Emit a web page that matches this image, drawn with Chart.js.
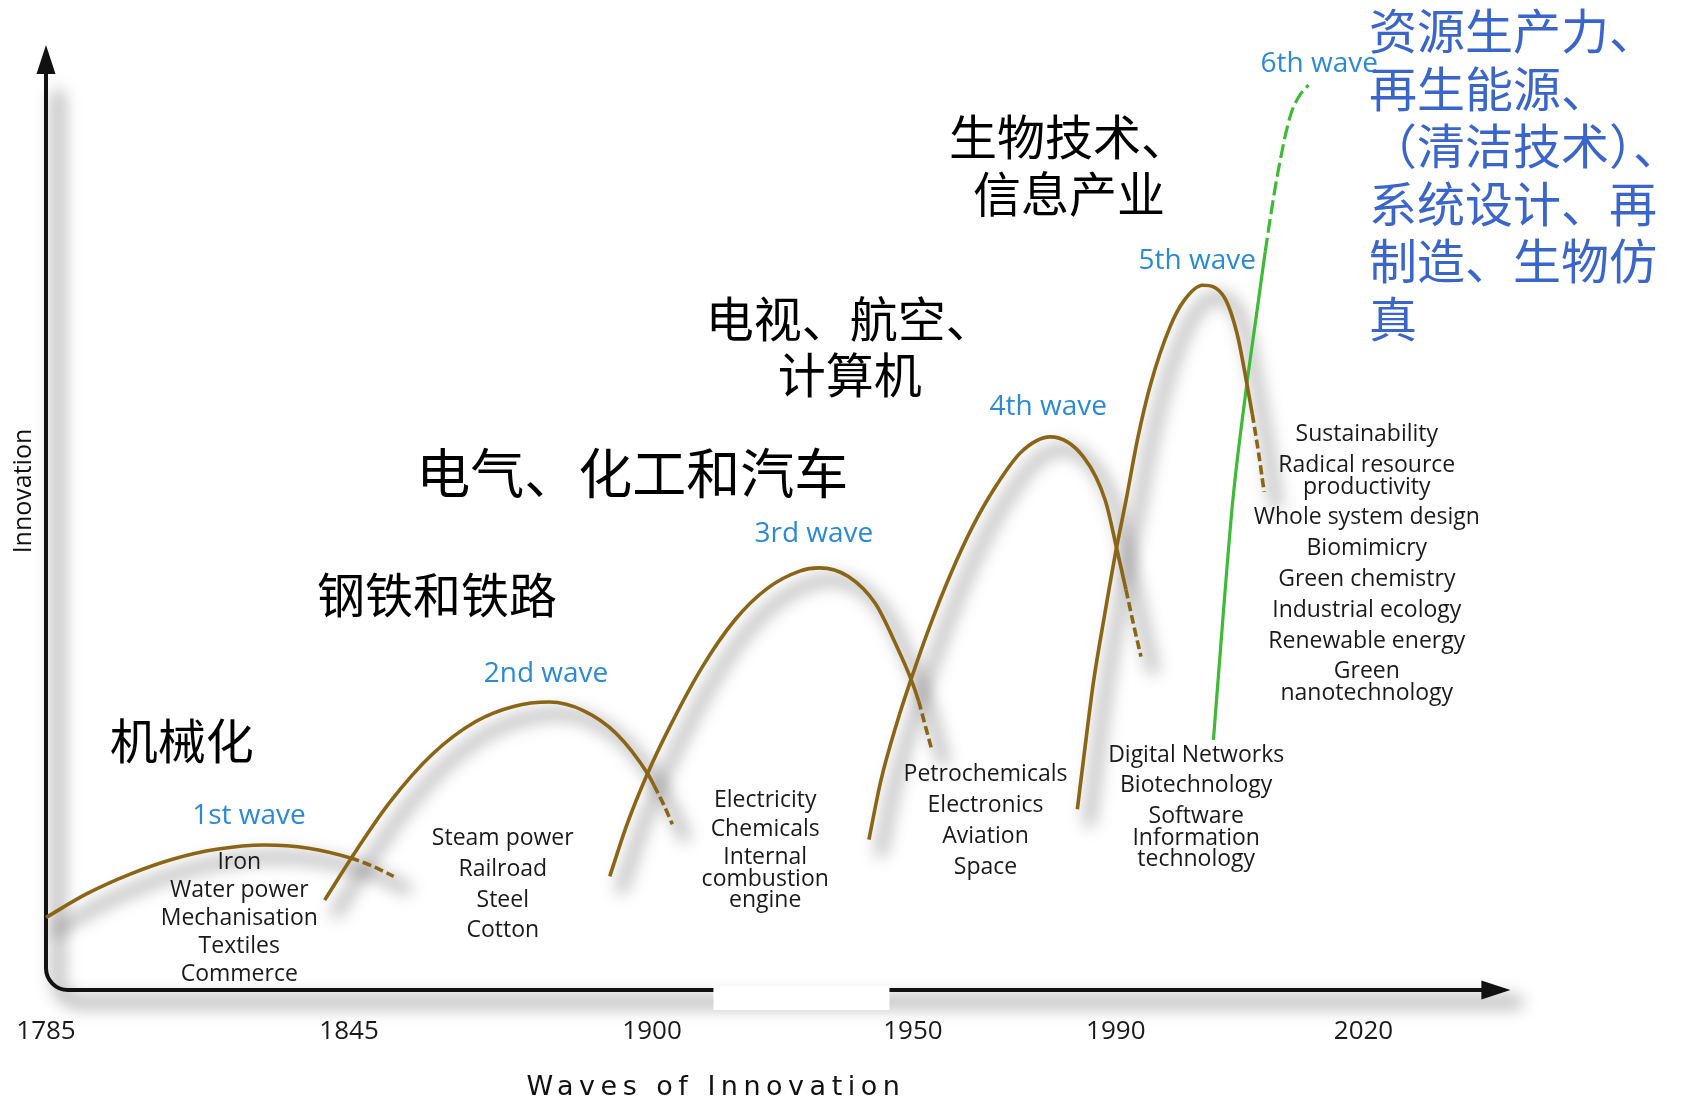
<!DOCTYPE html>
<html><head><meta charset="utf-8">
<script src="https://cdn.jsdelivr.net/npm/chart.js@4"></script>
<style>html,body{margin:0;padding:0;background:#fff;overflow:hidden}#c{display:block}</style>
</head><body>
<canvas id="c" width="1694" height="1106"></canvas>
<script>
// ---------- data ----------
const tickYears = ['1785', '1845', '1900', '1950', '1990', '2020'];
const tickPositions = [0, 23.0, 46.0, 65.8, 81.2, 100];

const wave1 = [[0,7.67],[3.11,10.19],[6.39,12.26],[9.67,13.86],[12.95,14.89],[16.56,15.35],[19.92,15.01],[23.11,13.97],[24.84,13.06],[26.39,12.03]];
const wave2 = [[21.15,9.51],[23.61,14.89],[26.07,19.82],[29.34,24.97],[32.62,28.41],[35.49,30.01],[38.20,30.47],[40.82,29.55],[43.28,27.15],[45.66,22.91],[46.15,21.65],[46.89,19.59],[47.54,17.53]];
const wave3 = [[42.79,12.03],[44.10,17.53],[45.66,22.91],[47.38,27.95],[49.84,34.25],[52.30,39.18],[54.75,42.50],[57.21,44.33],[58.69,44.67],[60.90,43.76],[62.95,40.89],[64.59,36.31],[65.66,32.88],[66.23,30.58],[66.72,28.06],[67.21,25.54]];
const wave4 = [[62.46,15.92],[63.36,22.11],[64.59,28.29],[65.66,32.88],[67.05,38.37],[68.69,44.10],[70.33,49.03],[71.97,53.04],[74.02,56.93],[76.23,58.53],[78.77,56.36],[80.41,51.78],[81.23,46.96],[81.97,42.38],[82.54,38.72],[83.11,35.28]];
const wave5 = [[78.28,19.13],[78.77,24.63],[79.51,32.65],[80.33,39.52],[81.23,46.62],[81.97,51.78],[82.87,58.42],[83.85,64.15],[85.33,70.22],[86.39,72.97],[87.79,74.57],[89.43,73.31],[90.41,69.42],[91.15,64.15],[91.56,60.94],[92.05,56.70],[92.46,52.69]];
const wave6 = [[88.61,26.46],[89.34,39.52],[90.08,51.78],[91.15,64.15],[91.89,71.59],[92.54,78.12],[93.44,86.03],[94.43,92.44],[95.08,94.50],[95.82,95.76]];

const waveNames = ['1st wave', '2nd wave', '3rd wave', '4th wave', '5th wave', '6th wave'];
const wave1Items = ['Iron', 'Water power', 'Mechanisation', 'Textiles', 'Commerce'];
const wave2Items = ['Steam power', 'Railroad', 'Steel', 'Cotton'];
const wave3Items = ['Electricity', 'Chemicals', 'Internal\ncombustion\nengine'];
const wave4Items = ['Petrochemicals', 'Electronics', 'Aviation', 'Space'];
const wave5Items = ['Digital Networks', 'Biotechnology', 'Software\nInformation\ntechnology'];
const wave6Items = ['Sustainability', 'Radical resource\nproductivity', 'Whole system design', 'Biomimicry', 'Green chemistry', 'Industrial ecology', 'Renewable energy', 'Green\nnanotechnology'];

const cnLabels = [['机械化'], ['钢铁和铁路'], ['电气、化工和汽车'], ['电视、航空、', '计算机'], ['生物技术、', '信息产业']];
const cnBlueLines = ['资源生产力、', '再生能源、', '（清洁技术）、', '系统设计、再', '制造、生物仿', '真'];
const xTitle = 'Waves of Innovation';
const yTitle = 'Innovation';

// ---------- layout & style (positions in axis units) ----------
const waveCurves = [wave1, wave2, wave3, wave4, wave5, wave6];
const itemLists = [wave1Items, wave2Items, wave3Items, wave4Items, wave5Items, wave6Items];
const STYLE = {
  brown: '#8b6516', green: '#3dbb34', blue: '#2b8ad6', cnBlue: '#3a66cc', ink: '#1a1a1a',
  dashFrom: [7, 10, 13, 13, 14, 5],
  curveColor: ['b', 'b', 'b', 'b', 'b', 'g'],
  axisEnd: 111.15,
  gap: [50.66, 64.02],
  shadow: { dx: 12, dy: 12, width: 12, blur: 8, color: 'rgba(0,0,0,0.26)' }
};
const POS = {
  waveLabels: [[15.41,18.44],[37.95,33.45],[58.28,48.22],[76.07,61.74],[87.38,77.09],[96.64,97.94]],
  groups: [
    {x:14.67, y:13.52, step:28},
    {x:34.67, y:16.04, step:30.8},
    {x:54.59, y:20.05, step:28.5},
    {x:71.31, y:22.79, step:31},
    {x:87.30, y:24.86, step:30.8},
    {x:100.25, y:58.76, step:30.8}
  ],
  innerStep: 21.6,
  cn: [
    {x:4.84, y:26.35, align:'left', size:48, step:0},
    {x:20.57, y:41.81, align:'left', size:48, step:0},
    {x:28.11, y:54.64, align:'left', size:54, step:0},
    {x:61.0, y:71.02, align:'center', size:48, step:56},
    {x:77.65, y:90.26, align:'center', size:48, step:57}
  ],
  cnBlue: {x:100.41, y:101.5, step:57.5, size:48},
  xTitle: {x:50.85, y:-10.4},
  yTitle: {x:-1.67, y:52.8}
};

// ---------- plugins ----------
function softShadow(ctx, buildPath, width) {
  const s = STYLE.shadow;
  ctx.save();
  ctx.filter = 'blur(' + s.blur + 'px)';
  ctx.translate(s.dx, s.dy);
  ctx.strokeStyle = s.color;
  ctx.lineWidth = width;
  ctx.lineCap = 'round';
  ctx.beginPath();
  buildPath();
  ctx.stroke();
  ctx.restore();
}

const axesPlugin = {
  id: 'arrowAxes',
  beforeDatasetsDraw(chart) {
    const {ctx, scales: {x, y}} = chart;
    const x0 = x.getPixelForValue(0), y0 = y.getPixelForValue(0);
    const top = y.getPixelForValue(100), xEnd = x.getPixelForValue(STYLE.axisEnd);
    const r = 22, ah = 29, aw = 9.5;
    const axisPath = (yStart, xStop) => {
      ctx.moveTo(x0, yStart);
      ctx.lineTo(x0, y0 - r);
      ctx.arcTo(x0, y0, x0 + r, y0, r);
      ctx.lineTo(xStop, y0);
    };
    // axis shadow
    softShadow(ctx, () => axisPath(top + ah + 10, xEnd - 6), 14);
    // curve shadows (brown waves) using the library's own line paths
    chart.data.datasets.forEach((ds, i) => {
      if (STYLE.curveColor[i] !== 'b') return;
      const meta = chart.getDatasetMeta(i);
      const line = meta.dataset;
      line.updateControlPoints(chart.chartArea, 'x');
      softShadow(ctx, () => line.path(ctx), STYLE.shadow.width);
    });
    ctx.save();
    ctx.strokeStyle = '#111'; ctx.lineWidth = 4;
    ctx.beginPath();
    axisPath(top + ah - 2, xEnd - ah + 2);
    ctx.stroke();
    ctx.fillStyle = '#111';
    ctx.beginPath(); ctx.moveTo(xEnd, y0); ctx.lineTo(xEnd - ah, y0 - aw); ctx.lineTo(xEnd - ah, y0 + aw); ctx.closePath(); ctx.fill();
    ctx.beginPath(); ctx.moveTo(x0, top); ctx.lineTo(x0 - aw, top + ah); ctx.lineTo(x0 + aw, top + ah); ctx.closePath(); ctx.fill();
    const g0 = x.getPixelForValue(STYLE.gap[0]), g1 = x.getPixelForValue(STYLE.gap[1]);
    ctx.fillStyle = '#fff';
    ctx.fillRect(g0, y0 - 4, g1 - g0, 24);
    ctx.restore();
  }
};

const textPlugin = {
  id: 'texts',
  afterDatasetsDraw(chart) {
    const {ctx, scales: {x, y}} = chart;
    const px = v => x.getPixelForValue(v), py = v => y.getPixelForValue(v);
    ctx.save();
    ctx.textBaseline = 'middle';
    // wave names
    ctx.font = '28px "Open Sans"'; ctx.fillStyle = STYLE.blue; ctx.textAlign = 'center';
    waveNames.forEach((n, i) => ctx.fillText(n, px(POS.waveLabels[i][0]), py(POS.waveLabels[i][1])));
    // technology lists
    ctx.font = '23px "Open Sans"'; ctx.fillStyle = STYLE.ink;
    itemLists.forEach((items, g) => {
      const G = POS.groups[g];
      let yy = py(G.y);
      items.forEach((it, k) => {
        if (k > 0) yy += G.step;
        it.split('\n').forEach((ln, j) => {
          if (j > 0) yy += POS.innerStep;
          ctx.fillText(ln, px(G.x), yy);
        });
      });
    });
    // chinese black labels
    ctx.fillStyle = '#000';
    cnLabels.forEach((lines, i) => {
      const c = POS.cn[i];
      ctx.font = c.size + 'px "Noto Sans CJK SC"';
      ctx.textAlign = c.align;
      lines.forEach((ln, j) => ctx.fillText(ln, px(c.x), py(c.y) + j * c.step));
    });
    // chinese blue block
    const b = POS.cnBlue;
    ctx.font = b.size + 'px "Noto Sans CJK SC"'; ctx.fillStyle = STYLE.cnBlue; ctx.textAlign = 'left';
    cnBlueLines.forEach((ln, j) => ctx.fillText(ln, px(b.x), py(b.y) + j * b.step));
    // axis titles
    ctx.fillStyle = '#111'; ctx.textAlign = 'center';
    ctx.save();
    ctx.font = '27px "DejaVu Sans"';
    ctx.letterSpacing = '5.5px';
    ctx.fillText(xTitle, px(POS.xTitle.x), py(POS.xTitle.y));
    ctx.restore();
    ctx.save();
    ctx.font = '25px "Open Sans"';
    ctx.translate(px(POS.yTitle.x), py(POS.yTitle.y));
    ctx.rotate(-Math.PI / 2);
    ctx.fillText(yTitle, 0, 0);
    ctx.restore();
    ctx.restore();
  }
};

// ---------- chart ----------
const datasets = waveCurves.map((pts, i) => {
  const col = STYLE.curveColor[i] === 'b' ? STYLE.brown : STYLE.green;
  const dash = STYLE.curveColor[i] === 'b' ? [9, 4] : [14, 5];
  return {
    label: waveNames[i],
    data: pts.map(p => ({x: p[0], y: p[1]})),
    borderColor: col,
    borderWidth: STYLE.curveColor[i] === 'b' ? 3.6 : 3.2,
    pointRadius: 0,
    fill: false,
    clip: false,
    cubicInterpolationMode: 'monotone',
    borderCapStyle: 'butt',
    segment: { borderDash: c => c.p0DataIndex >= STYLE.dashFrom[i] ? dash : [] }
  };
});

new Chart(document.getElementById('c'), {
  type: 'line',
  data: { datasets },
  options: {
    responsive: false,
    animation: false,
    devicePixelRatio: 1,
    layout: { padding: { left: 46, top: 45, right: 67, bottom: 33 } },
    plugins: { legend: { display: false }, tooltip: { enabled: false } },
    events: [],
    scales: {
      x: {
        type: 'linear', min: 0, max: 120,
        grid: { display: false, drawTicks: true, tickLength: 23 },
        border: { display: false },
        afterBuildTicks: s => { s.ticks = tickPositions.map(v => ({ value: v })); },
        afterFit: s => { s.height = 83; },
        ticks: {
          autoSkip: false, maxRotation: 0, minRotation: 0, padding: 3,
          color: '#1a1a1a', font: { family: 'Open Sans', size: 26 },
          callback: (v, i) => tickYears[i]
        }
      },
      y: { type: 'linear', min: 0, max: 100, display: false }
    }
  },
  plugins: [axesPlugin, textPlugin]
});
</script>
</body></html>
